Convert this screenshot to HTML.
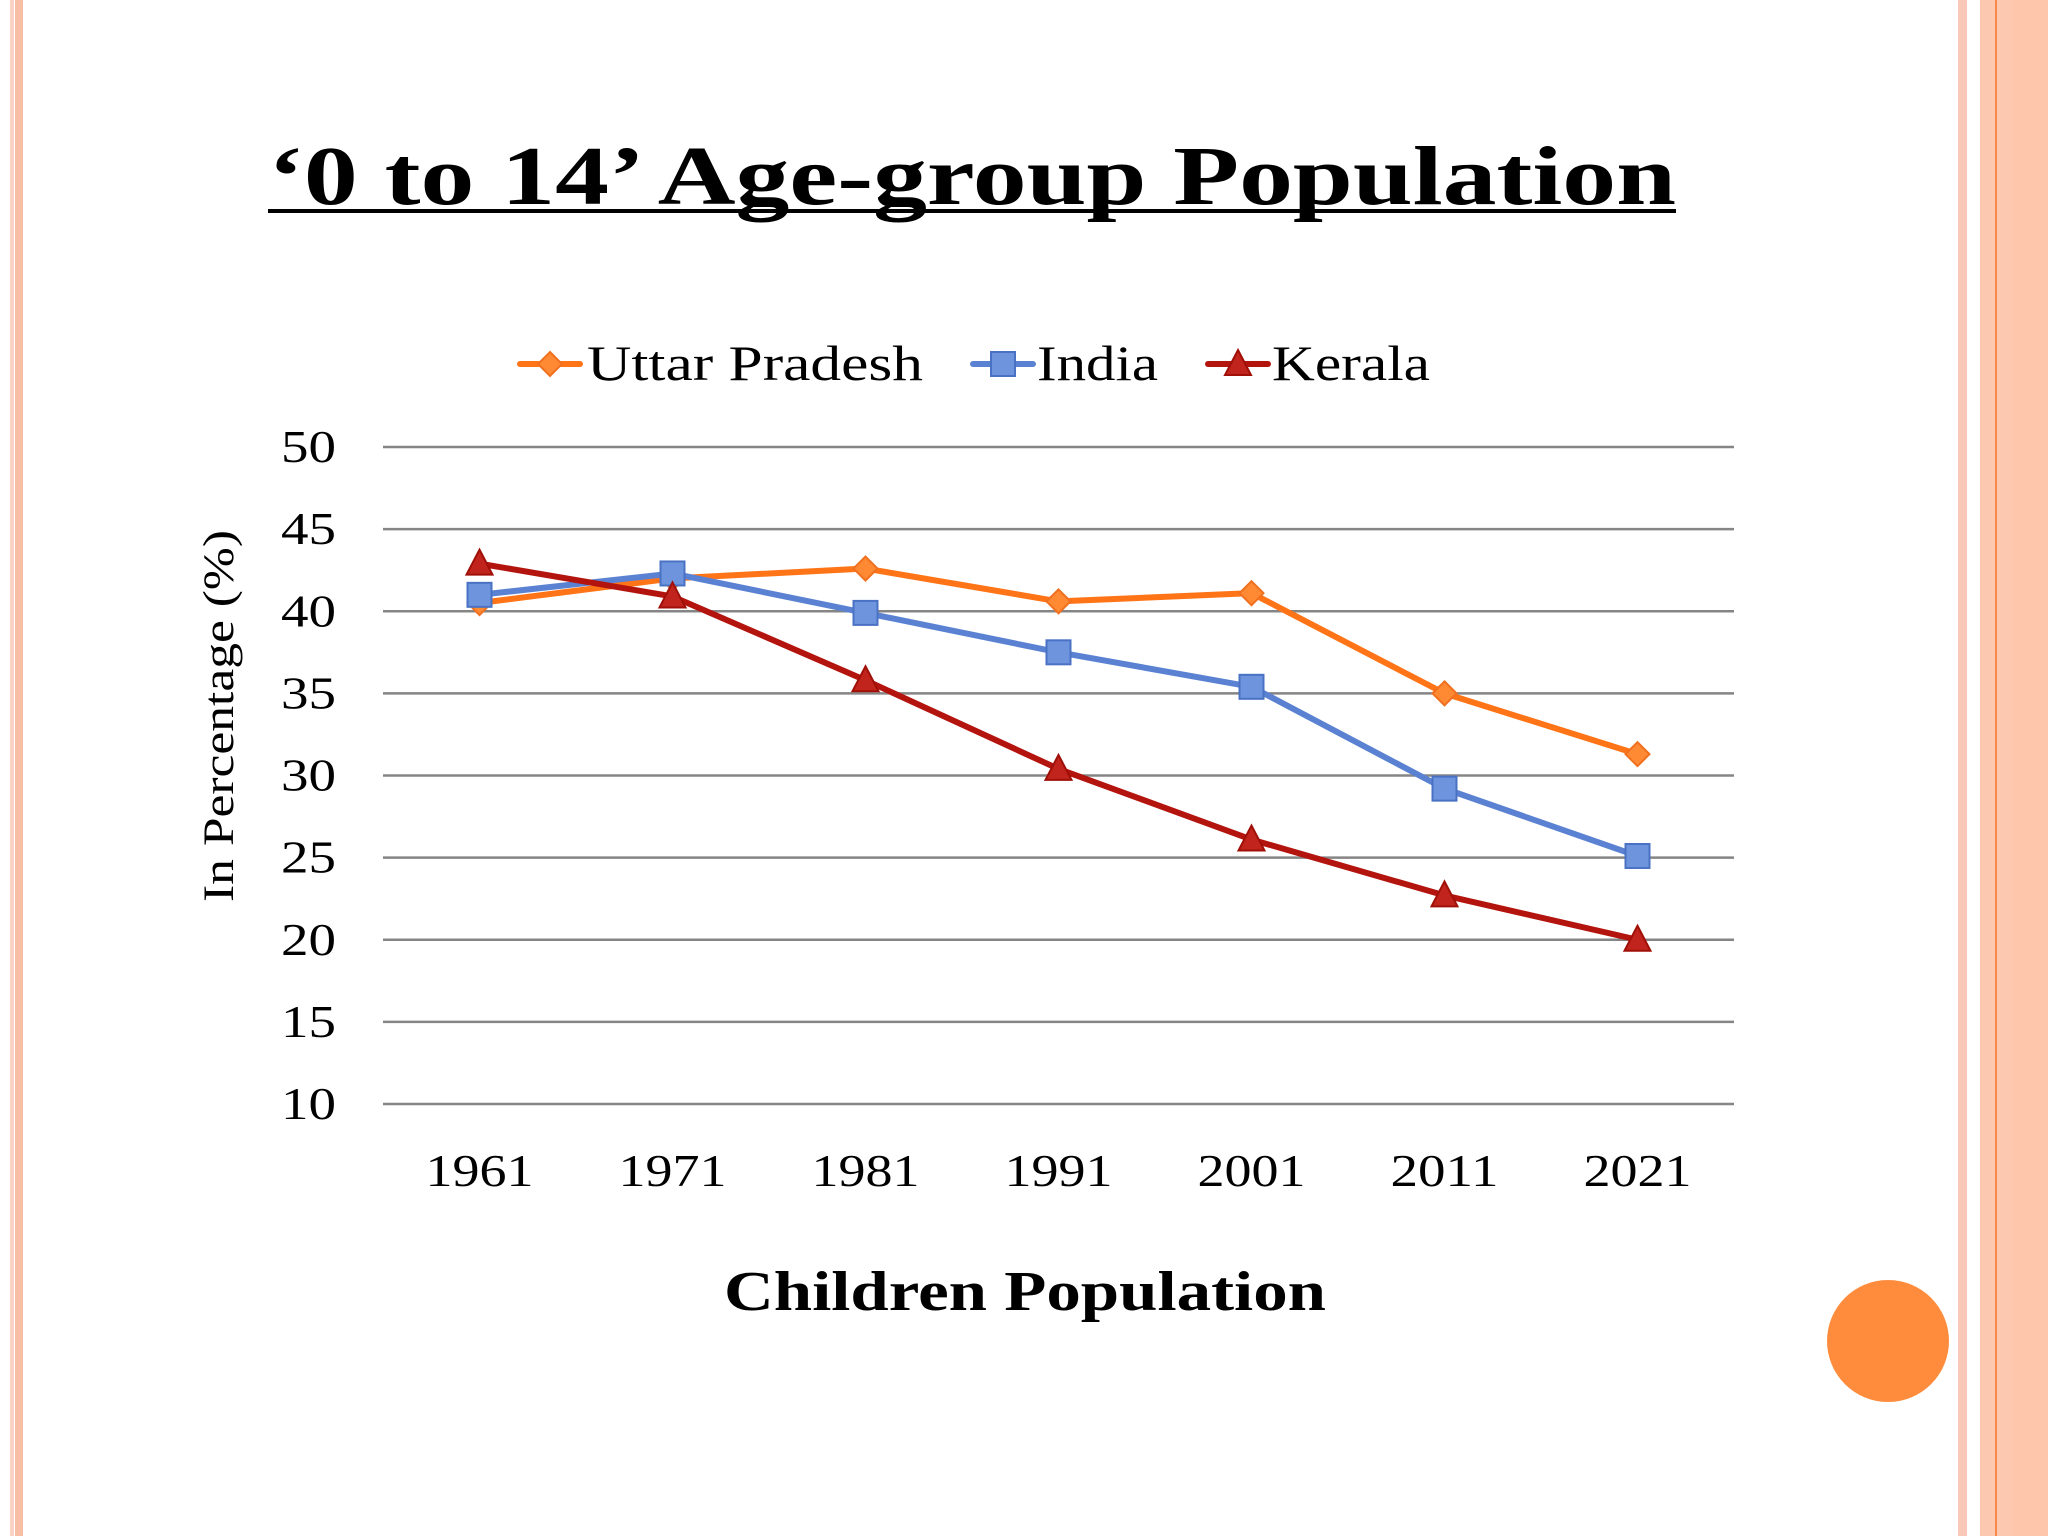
<!DOCTYPE html>
<html><head><meta charset="utf-8"><style>
html,body{margin:0;padding:0;background:#fff}
svg{display:block}
text{font-family:"Liberation Serif",serif}
</style></head><body>
<svg width="2048" height="1536" viewBox="0 0 2048 1536">
<rect x="0" y="0" width="2048" height="1536" fill="#fff"/>
<g>
<rect x="10" y="0" width="4" height="1536" fill="#FAD3C6"/>
<rect x="15" y="0" width="8" height="1536" fill="#F9BFA6"/>
</g>
<g>
<rect x="1958" y="0" width="9" height="1536" fill="#F9C8B8"/>
<rect x="1980" y="0" width="15" height="1536" fill="#FDC8B0"/>
<rect x="1995" y="0" width="2" height="1536" fill="#F58A4A"/>
<rect x="1997" y="0" width="15" height="1536" fill="#FDC8B0"/>
<rect x="2012" y="0" width="36" height="1536" fill="#FEC7AC"/>
</g>
<text x="268" y="204" font-size="84" font-weight="bold" textLength="1408" lengthAdjust="spacingAndGlyphs">‘0 to 14’ Age-group Population</text>
<rect x="268" y="209" width="1408" height="4" fill="#000"/>
<circle cx="1888" cy="1341" r="61" fill="#FF8C3C"/>
<g id="chart"></g>
</svg>
<script>
const categories = ["1961","1971","1981","1991","2001","2011","2021"];
const upValues = [40.5, 42.0, 42.6, 40.6, 41.1, 35.0, 31.3];
const indiaValues = [41.0, 42.3, 39.9, 37.5, 35.4, 29.2, 25.1];
const keralaValues = [42.9, 40.9, 35.8, 30.4, 26.1, 22.7, 20.0];
const yTicks = [10,15,20,25,30,35,40,45,50];
const seriesNames = ["Uttar Pradesh","India","Kerala"];

const NS="http://www.w3.org/2000/svg";
const g=document.getElementById('chart');
const X0=383,X1=1734,Y0=1104,Y1=447,yMin=10,yMax=50;
const band=(X1-X0)/categories.length;
const xs=i=>X0+band*(i+0.5);
const ys=v=>Y0-(v-yMin)/(yMax-yMin)*(Y0-Y1);
function el(t,a){const e=document.createElementNS(NS,t);for(const k in a)e.setAttribute(k,a[k]);g.appendChild(e);return e;}

yTicks.forEach(t=>{
  const l=el('line',{x1:X0,x2:X1,y1:ys(t),y2:ys(t),stroke:'#858585','stroke-width':2.5});
  
  
  const tx=el('text',{x:336,y:ys(t)+15,'font-size':46,'text-anchor':'end',fill:'#000',textLength:55,lengthAdjust:'spacingAndGlyphs'});
  tx.textContent=t;
  
  
});
categories.forEach((c,i)=>{
  const tx=el('text',{x:xs(i),y:1186,'font-size':46,'text-anchor':'middle',fill:'#000',textLength:108,lengthAdjust:'spacingAndGlyphs'});
  tx.textContent=c;
  
  
});
const yt=el('text',{x:0,y:0,'font-size':43,'text-anchor':'middle',transform:'translate(233,716) rotate(-90)',textLength:372,lengthAdjust:'spacingAndGlyphs'});
yt.textContent='In Percentage (%)';


const xt=el('text',{x:1025,y:1310,'font-size':56,'font-weight':'bold','text-anchor':'middle',textLength:602,lengthAdjust:'spacingAndGlyphs'});
xt.textContent='Children Population';



function marker(type,x,y,fill,stroke){
  let m;
  if(type==='diamond') m=el('polygon',{points:`${x},${y-12} ${x+12},${y} ${x},${y+12} ${x-12},${y}`,fill,stroke,'stroke-width':2});
  else if(type==='square') m=el('rect',{x:x-12,y:y-12,width:24,height:24,fill,stroke,'stroke-width':2});
  else m=el('polygon',{points:`${x},${y-14} ${x+13},${y+11} ${x-13},${y+11}`,fill,stroke,'stroke-width':2});
  return m;
}
const series=[
 {vals:upValues,color:'#FF7417',fill:'#FF8A33',stroke:'#F07020',m:'diamond',key:'uttar-pradesh'},
 {vals:indiaValues,color:'#5B82D2',fill:'#6E94DD',stroke:'#4A72C4',m:'square',key:'india'},
 {vals:keralaValues,color:'#B4140E',fill:'#C0241C',stroke:'#A01008',m:'triangle',key:'kerala'}
];
series.forEach(s=>{
  const p=el('polyline',{points:s.vals.map((v,i)=>xs(i)+','+ys(v)).join(' '),fill:'none',stroke:s.color,'stroke-width':6,'stroke-linejoin':'round'});
  
  
  s.vals.forEach((v,i)=>{
    const m=marker(s.m,xs(i),ys(v),s.fill,s.stroke);
    
    
  });
});
const leg=[[520,587,336],[973,1037,121],[1208,1272,158]];
series.forEach((s,i)=>{
  const [lx,tx,tw]=leg[i];
  const l=el('line',{x1:lx,x2:lx+60,y1:364,y2:364,stroke:s.color,'stroke-width':6,'stroke-linecap':'round'});
  
  
  const m=marker(s.m,lx+30,364,s.fill,s.stroke);
  
  
  const t=el('text',{x:tx,y:380,'font-size':50,textLength:tw,lengthAdjust:'spacingAndGlyphs'});
  t.textContent=seriesNames[i];
  
  
});
</script>
</body></html>
